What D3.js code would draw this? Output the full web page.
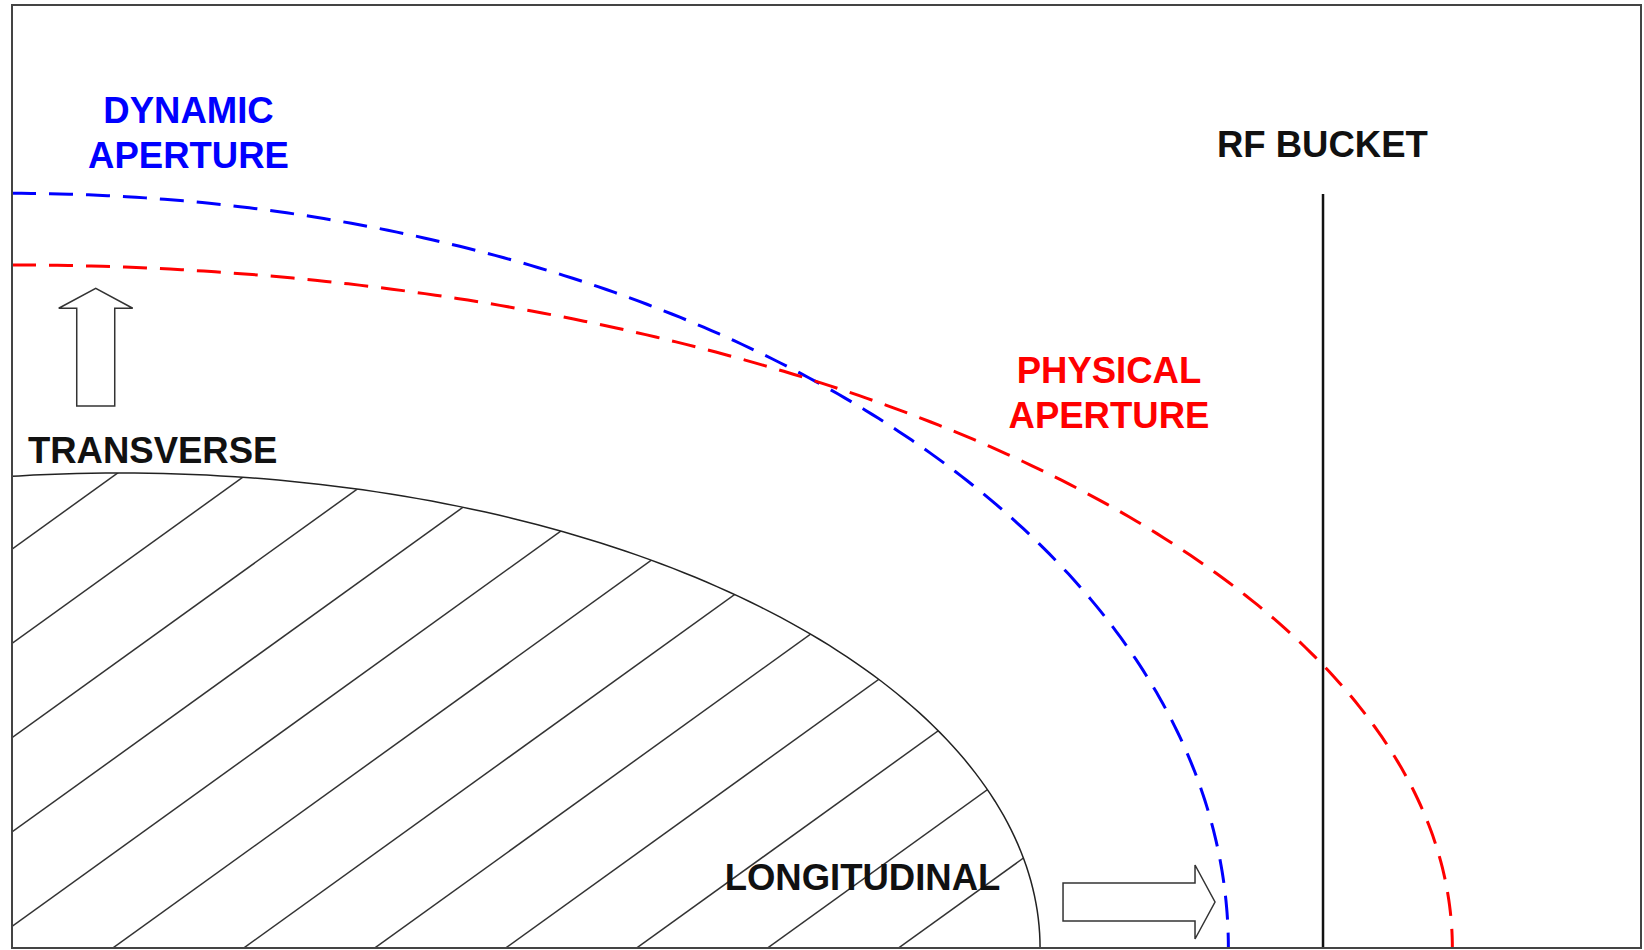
<!DOCTYPE html>
<html>
<head>
<meta charset="utf-8">
<script src="https://cdn.jsdelivr.net/npm/d3@7"></script>
<style>
  body { margin: 0; background: #fff; }
  #chart text {
    font-family: "Liberation Sans", Arial, sans-serif;
    font-weight: bold;
    font-size: 36.5px;
  }
</style>
</head>
<body>
<div id="chart"></div>
<script>
// All values are in percent of the frame, origin at the bottom left corner

// Aperture limits (quarter ellipses centred on the origin)
const apertureNames = ["DYNAMIC APERTURE", "PHYSICAL APERTURE"];
const apertureRx = [74.67, 88.42];
const apertureRy = [80.03, 72.43];
const apertureColors = ["#0000ff", "#ff0000"];

// Beam envelope (hatched ellipse)
const beamCx = 6.63;
const beamRx = 56.48;
const beamRy = 50.37;

// Hatching: lines y = b + slope * x
const hatchSlope = 1.244;
const hatchIntercepts = [42.3, 32.3, 22.3, 12.3, 2.3, -7.7, -17.7, -27.7, -37.7, -47.7, -57.7, -67.7];

// RF bucket limit
const rfX = 80.48;
const rfTop = 79.96;

// Labels: text lines, anchor point, colour
const labelLines = [["DYNAMIC", "APERTURE"], ["PHYSICAL", "APERTURE"], ["TRANSVERSE"], ["LONGITUDINAL"], ["RF BUCKET"]];
const labelX = [10.835, 67.34, 0.98, 52.21, 80.44];
const labelY = [87.52, 59.92, 51.40, 6.15, 83.85];
const labelAnchor = ["middle", "middle", "start", "middle", "middle"];
const labelColors = ["#0000ff", "#ff0000", "#111", "#111", "#111"];

// Direction arrows: from -> to
const arrowFrom = [[5.14, 57.47], [64.52, 4.88]];
const arrowTo = [[5.14, 69.96], [73.85, 4.88]];

const svgWidth = 1644;
const svgHeight = 950;
const frame = {left: 12, top: 5, right: 1641, bottom: 948};

const svg = d3.select("#chart")
  .append("svg")
  .attr("width", svgWidth)
  .attr("height", svgHeight);

const x = d3.scaleLinear().domain([0, 100]).range([frame.left, frame.right]);
const y = d3.scaleLinear().domain([0, 100]).range([frame.bottom, frame.top]);

const defs = svg.append("defs");

defs.append("clipPath").attr("id", "frame-clip")
  .append("rect")
  .attr("x", x(0)).attr("y", y(100))
  .attr("width", x(100) - x(0)).attr("height", y(0) - y(100));

defs.append("clipPath").attr("id", "beam-clip")
  .append("ellipse")
  .attr("cx", x(beamCx)).attr("cy", y(0))
  .attr("rx", x(beamRx) - x(0)).attr("ry", y(0) - y(beamRy));

// Quarter ellipse drawn from the top down to the right
function ellipsePath(cx, rx, ry, from, to) {
  const angles = d3.range(0, 201).map(i => from + (to - from) * i / 200);
  return d3.line()
    .x(t => x(cx + rx * Math.cos(t)))
    .y(t => y(ry * Math.sin(t)))(angles);
}

const plot = svg.append("g").attr("clip-path", "url(#frame-clip)");

// Hatch lines inside the beam ellipse
plot.append("g")
  .attr("clip-path", "url(#beam-clip)")
  .selectAll("line")
  .data(hatchIntercepts)
  .enter().append("line")
    .attr("x1", x(0))
    .attr("y1", d => y(d))
    .attr("x2", x(100))
    .attr("y2", d => y(d + hatchSlope * 100))
    .attr("stroke", "#333")
    .attr("stroke-width", 1.5);

// Beam outline
plot.append("path")
  .attr("d", ellipsePath(beamCx, beamRx, beamRy, Math.PI, 0))
  .attr("fill", "none")
  .attr("stroke", "#222")
  .attr("stroke-width", 1.5);

// Labels
labelLines.forEach(function(lines, i) {
  const t = svg.append("text")
    .attr("x", x(labelX[i]))
    .attr("y", y(labelY[i]))
    .attr("text-anchor", labelAnchor[i])
    .attr("fill", labelColors[i]);
  lines.forEach(function(line, j) {
    t.append("tspan")
      .attr("x", x(labelX[i]))
      .attr("dy", j === 0 ? 0 : 45)
      .text(line);
  });
});

// Hollow block arrows (sizes in pixels)
const shaftHalf = 19, headHalf = 37, headLen = 20;
arrowFrom.forEach(function(f, i) {
  const x0 = x(f[0]), y0 = y(f[1]);
  const x1 = x(arrowTo[i][0]), y1 = y(arrowTo[i][1]);
  const len = Math.hypot(x1 - x0, y1 - y0);
  const ux = (x1 - x0) / len, uy = (y1 - y0) / len;
  const px = -uy, py = ux;
  const bx = x1 - ux * headLen, by = y1 - uy * headLen;
  const pts = [
    [x0 + px * shaftHalf, y0 + py * shaftHalf],
    [bx + px * shaftHalf, by + py * shaftHalf],
    [bx + px * headHalf, by + py * headHalf],
    [x1, y1],
    [bx - px * headHalf, by - py * headHalf],
    [bx - px * shaftHalf, by - py * shaftHalf],
    [x0 - px * shaftHalf, y0 - py * shaftHalf]
  ];
  svg.append("polygon")
    .attr("points", pts.map(p => p.join(",")).join(" "))
    .attr("fill", "#fff")
    .attr("stroke", "#333")
    .attr("stroke-width", 1.5);
});

// Aperture limits, dashed
plot.selectAll(".aperture")
  .data(apertureNames)
  .enter().append("path")
    .attr("class", "aperture")
    .attr("d", (d, i) => ellipsePath(0, apertureRx[i], apertureRy[i], Math.PI / 2, 0))
    .attr("fill", "none")
    .attr("stroke", (d, i) => apertureColors[i])
    .attr("stroke-width", 3)
    .attr("stroke-dasharray", "24,13");

// RF bucket line
svg.append("line")
  .attr("x1", x(rfX)).attr("x2", x(rfX))
  .attr("y1", y(rfTop)).attr("y2", y(0))
  .attr("stroke", "#111")
  .attr("stroke-width", 2.5);

// Frame
svg.append("rect")
  .attr("x", x(0)).attr("y", y(100))
  .attr("width", x(100) - x(0)).attr("height", y(0) - y(100))
  .attr("fill", "none")
  .attr("stroke", "#444")
  .attr("stroke-width", 2);
</script>
</body>
</html>
